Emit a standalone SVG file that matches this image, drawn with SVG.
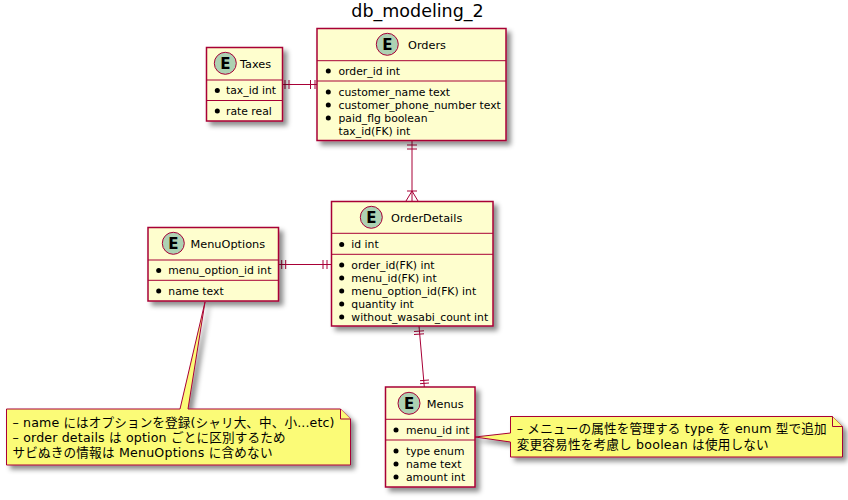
<svg xmlns="http://www.w3.org/2000/svg" width="848" height="500" viewBox="0 0 848 500">
<style>
text{font-family:"DejaVu Sans","Noto Sans CJK JP",sans-serif;font-size:10.8px;fill:#000}
.title{font-size:17.5px;text-anchor:middle}
.name{font-size:11.3px}
.note{font-size:12.6px}
.box{fill:#FEFECE;stroke:#A80036;stroke-width:1.5}
.sep{stroke:#A80036;stroke-width:1;fill:none}
.ic{fill:#ADD1B2;stroke:#A80036;stroke-width:1}
.e{font-size:15px;font-weight:bold;text-anchor:middle}
.n{fill:#FBFB77;stroke:#A80036;stroke-width:1}
.c{stroke:#A80036;stroke-width:1;fill:none}
.b{fill:#000}
</style>
<defs><filter id="s" x="-20%" y="-20%" width="150%" height="150%"><feDropShadow dx="4" dy="4" stdDeviation="2.500" flood-color="#000" flood-opacity="0.45"/></filter></defs>
<text class="title" x="417.500" y="17">db_modeling_2</text>

<g id="connectors" class="c">
<path d="M282.500 84.500H317M285 80V89M289 80V89M310.500 80V89M315 80V89"/>
<path d="M412 140V201M407 145H417M407 149H417M407 191H417M412 191L406 201M412 191L418 201"/>
<path d="M278.500 264.500H331.500M281.700 260V269M285.700 260V269M323 260V269M327 260V269"/>
<path d="M419 326L424.300 387M414 331.500L424 330.800M414 334.500L424 333.800M420 380.700L429 380M420 383.700L429 383"/>
</g>

<g id="Taxes">
<rect class="box" x="206.500" y="47.500" width="76" height="73.500" filter="url(#s)"/>
<circle class="ic" cx="225.300" cy="63.300" r="11"/><text class="e" x="225.300" y="68.500">E</text>
<text class="name" x="240" y="67.700">Taxes</text>
<path class="sep" d="M206.500 80H282.500M206.500 100.500H282.500"/>
<circle class="b" cx="217.300" cy="90.500" r="2.500"/><text x="226" y="94">tax_id int</text>
<circle class="b" cx="217.300" cy="111" r="2.500"/><text x="226" y="115">rate real</text>
</g>

<g id="Orders">
<rect class="box" x="317" y="28.500" width="189" height="112" filter="url(#s)"/>
<circle class="ic" cx="387.300" cy="44.300" r="11"/><text class="e" x="387.300" y="49.500">E</text>
<text class="name" x="408" y="48.700">Orders</text>
<path class="sep" d="M317 60.700H506M317 81H506"/>
<circle class="b" cx="328.300" cy="71" r="2.500"/><text x="338.500" y="75">order_id int</text>
<circle class="b" cx="328.300" cy="92" r="2.500"/><text x="338.500" y="96">customer_name text</text>
<circle class="b" cx="328.300" cy="105" r="2.500"/><text x="338.500" y="109">customer_phone_number text</text>
<circle class="b" cx="328.300" cy="118" r="2.500"/><text x="338.500" y="122">paid_flg boolean</text>
<text x="338.500" y="135">tax_id(FK) int</text>
</g>

<g id="OrderDetails">
<rect class="box" x="331.500" y="201.500" width="161.500" height="124.500" filter="url(#s)"/>
<circle class="ic" cx="371.300" cy="217.300" r="11"/><text class="e" x="371.300" y="222.500">E</text>
<text class="name" x="391" y="221.700">OrderDetails</text>
<path class="sep" d="M331.500 233.300H493M331.500 254.300H493"/>
<circle class="b" cx="341.700" cy="244.500" r="2.500"/><text x="351.300" y="248.300">id int</text>
<circle class="b" cx="341.700" cy="265" r="2.500"/><text x="351.300" y="269">order_id(FK) int</text>
<circle class="b" cx="341.700" cy="278" r="2.500"/><text x="351.300" y="282">menu_id(FK) int</text>
<circle class="b" cx="341.700" cy="291" r="2.500"/><text x="351.300" y="295">menu_option_id(FK) int</text>
<circle class="b" cx="341.700" cy="304" r="2.500"/><text x="351.300" y="308">quantity int</text>
<circle class="b" cx="341.700" cy="317" r="2.500"/><text x="351.300" y="321">without_wasabi_count int</text>
</g>

<g id="MenuOptions">
<rect class="box" x="148" y="227.500" width="130.500" height="73.500" filter="url(#s)"/>
<circle class="ic" cx="173.300" cy="243.300" r="11"/><text class="e" x="173.300" y="248.500">E</text>
<text class="name" x="190.500" y="247.700">MenuOptions</text>
<path class="sep" d="M148 260H278.500M148 280.300H278.500"/>
<circle class="b" cx="158.700" cy="270.500" r="2.500"/><text x="168.300" y="274">menu_option_id int</text>
<circle class="b" cx="158.700" cy="291" r="2.500"/><text x="168.300" y="295">name text</text>
</g>

<g id="Menus">
<rect class="box" x="385.500" y="387" width="89.500" height="100" filter="url(#s)"/>
<circle class="ic" cx="409" cy="403.300" r="11"/><text class="e" x="409" y="408.500">E</text>
<text class="name" x="426.700" y="407.700">Menus</text>
<path class="sep" d="M385.500 419.300H475M385.500 440H475"/>
<circle class="b" cx="396" cy="430" r="2.500"/><text x="406" y="434">menu_id int</text>
<circle class="b" cx="396" cy="451" r="2.500"/><text x="406" y="455">type enum</text>
<circle class="b" cx="396" cy="464" r="2.500"/><text x="406" y="468">name text</text>
<circle class="b" cx="396" cy="477" r="2.500"/><text x="406" y="481">amount int</text>
</g>

<g id="NoteMenuOptions">
<path class="n" filter="url(#s)" d="M6.500 409H180L205 302L188 409H340.500L350.500 419V465H6.500Z"/>
<path class="n" d="M340.500 409V419H350.500"/>
<text class="note" x="12.500" y="426.700" textLength="322">– name にはオプションを登録(シャリ大、中、小...etc)</text>
<text class="note" x="12.500" y="441.700" textLength="273">– order details は option ごとに区別するため</text>
<text class="note" x="12.500" y="456.700" textLength="260">サビぬきの情報は MenuOptions に含めない</text>
</g>

<g id="NoteMenus">
<path class="n" filter="url(#s)" d="M510.500 416.500H832.500L842.500 426.500V457H510.500V442L475 437L510.500 433Z"/>
<path class="n" d="M832.500 416.500V426.500H842.500"/>
<text class="note" x="516.700" y="433.300" textLength="310">– メニューの属性を管理する type を enum 型で追加</text>
<text class="note" x="516.700" y="449" textLength="252">変更容易性を考慮し boolean は使用しない</text>
</g>
</svg>
